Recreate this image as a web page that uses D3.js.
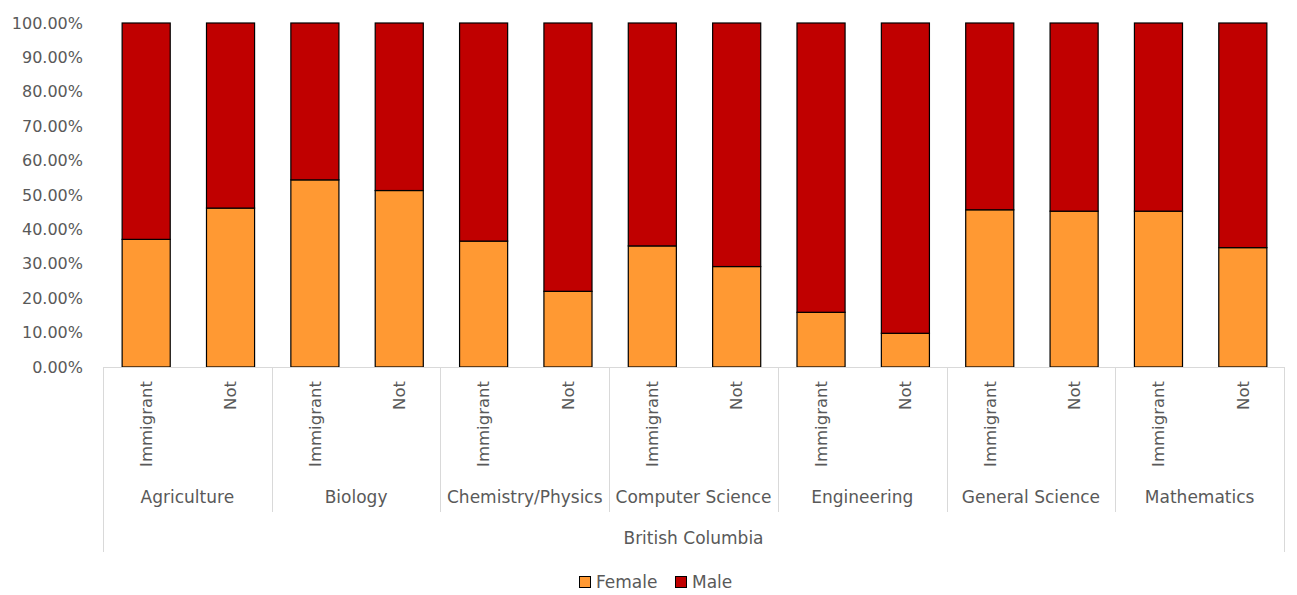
<!DOCTYPE html>
<html>
<head>
<meta charset="utf-8">
<script src="https://cdn.jsdelivr.net/npm/d3@7"></script>
<style>
  html, body { margin: 0; padding: 0; background: #fff; }
  text { font-family: "DejaVu Sans", sans-serif; fill: #595959; }
</style>
</head>
<body>
<svg id="chart" width="1297" height="595"></svg>
<script>
const region = "British Columbia";
const fields = ["Agriculture", "Biology", "Chemistry/Physics", "Computer Science", "Engineering", "General Science", "Mathematics"];
const statuses = ["Immigrant", "Not"];
// Female share (%) per field, [Immigrant, Not]
const female = [
  [37.1, 46.2],
  [54.4, 51.3],
  [36.6, 22.0],
  [35.2, 29.2],
  [15.9, 9.8],
  [45.7, 45.3],
  [45.3, 34.7]
];
const male = female.map(r => r.map(v => 100 - v));
const yTicks = [0, 10, 20, 30, 40, 50, 60, 70, 80, 90, 100];
const seriesNames = ["Female", "Male"];
const colors = ["#FF9933", "#C00000"];

(function () {
const rows = [];
fields.forEach((f, i) => statuses.forEach((s, j) => {
  rows.push({ id: f + "|" + s, field: f, status: s, Female: female[i][j], Male: male[i][j] });
}));

const svg = d3.select("#chart");
const mLeft = 103, mRight = 1284, mTop = 23, mBottom = 367;
const fsY = 16, fs = 17, fsRot = 16.5;

const x = d3.scaleBand().domain(rows.map(d => d.id)).range([mLeft, mRight]).paddingInner(0.43).paddingOuter(0.215);
const xg = d3.scaleBand().domain(fields).range([mLeft, mRight]);
const y = d3.scaleLinear().domain([0, 100]).range([mBottom, mTop]);

// y axis labels
const yAxis = d3.axisLeft(y).tickValues(yTicks).tickSize(0).tickPadding(0).tickFormat(d => d3.format(".2f")(d) + "%");
const gy = svg.append("g").attr("transform", `translate(83,0)`).call(yAxis);
gy.select(".domain").remove();
gy.selectAll("text").style("font-size", fsY + "px").style("font-family", "DejaVu Sans").attr("fill", "#595959");

// stacked bars
const stack = d3.stack().keys(seriesNames)(rows);
svg.append("g").selectAll("g").data(stack).join("g")
  .attr("fill", (d, i) => colors[i])
  .selectAll("rect").data(d => d).join("rect")
  .attr("x", d => x(d.data.id) + 1)
  .attr("width", x.bandwidth())
  .attr("y", d => y(d[1]))
  .attr("height", d => y(d[0]) - y(d[1]))
  .attr("stroke", "#000").attr("stroke-width", 1.2);

// category axis lines
const lc = "#d9d9d9";
const ax = svg.append("g");
ax.append("line").attr("x1", mLeft).attr("x2", mRight).attr("y1", mBottom + 0.5).attr("y2", mBottom + 0.5).attr("stroke", lc);
ax.append("line").attr("x1", mLeft + 0.5).attr("x2", mLeft + 0.5).attr("y1", mBottom).attr("y2", 552).attr("stroke", lc);
ax.append("line").attr("x1", mRight + 0.5).attr("x2", mRight + 0.5).attr("y1", mBottom).attr("y2", 552).attr("stroke", lc);
ax.selectAll("line.div").data(fields.slice(1)).join("line").attr("class", "div")
  .attr("x1", d => Math.round(xg(d)) + 0.5).attr("x2", d => Math.round(xg(d)) + 0.5)
  .attr("y1", mBottom).attr("y2", 512).attr("stroke", lc);

// status labels (rotated)
svg.append("g").selectAll("text").data(rows).join("text")
  .attr("transform", d => `translate(${x(d.id) + x.bandwidth() / 2 + 1},381) rotate(-90)`)
  .attr("text-anchor", "end").attr("dy", "0.35em")
  .style("font-size", fsRot + "px")
  .text(d => d.status);

// field labels
svg.append("g").selectAll("text").data(fields).join("text")
  .attr("x", d => xg(d) + xg.bandwidth() / 2).attr("y", 503)
  .attr("text-anchor", "middle").style("font-size", fs + "px")
  .text(d => d);

// region label
svg.append("text").attr("x", (mLeft + mRight) / 2).attr("y", 544)
  .attr("text-anchor", "middle").style("font-size", fs + "px").text(region);

// legend
const lg = svg.append("g");
const legX = [579, 675];
seriesNames.forEach((s, i) => {
  lg.append("rect").attr("x", legX[i] + 0.5).attr("y", 576.5).attr("width", 11).attr("height", 11)
    .attr("fill", colors[i]).attr("stroke", "#000").attr("stroke-width", 1);
  lg.append("text").attr("x", legX[i] + 17).attr("y", 588).style("font-size", fs + "px").text(s);
});
})();
</script>
</body>
</html>
